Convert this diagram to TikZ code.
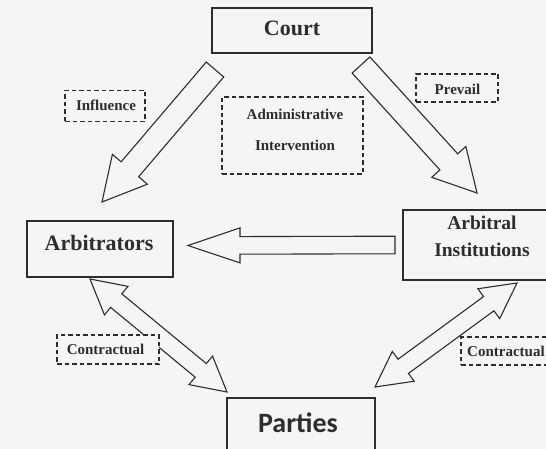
\documentclass[tikz,border=0pt]{standalone}
\usepackage{fontspec}
\setmainfont{Liberation Serif}
\newfontfamily\partiesfont{Carlito}
\usetikzlibrary{calc}
\definecolor{bg}{RGB}{245,245,247}
\definecolor{ink}{RGB}{45,45,48}
\tikzset{
  box/.style={draw=ink, line width=1.3pt, fill=bg, inner sep=0pt},
  dbox/.style={draw=ink, line width=1.1pt, dash pattern=on 4.5pt off 3pt, fill=bg, inner sep=0pt},
  txt/.style={text=ink, inner sep=0pt, align=center},
  lbl/.style={txt, font=\fontsize{15}{17}\selectfont\bfseries},
  big/.style={txt, font=\fontsize{22}{26}\selectfont\bfseries},
  arrowline/.style={draw=ink, line width=1.1pt, fill=bg, line join=miter, miter limit=20}
}
% single block arrow: #1 tail, #2 tip, #3 shaft half width, #4 head half width, #5 head length
\newcommand{\sblockarrow}[5]{%
  \coordinate (hh) at ($(#2)!#5!(#1)$);
  \draw[arrowline] ($(#1)!#3!90:(#2)$) -- ($(hh)!#3!90:(#2)$) -- ($(hh)!#4!90:(#2)$) -- (#2)
     -- ($(hh)!#4!-90:(#2)$) -- ($(hh)!#3!-90:(#2)$) -- ($(#1)!#3!-90:(#2)$) -- cycle;}
% double block arrow between tips #1 and #2
\newcommand{\dblockarrow}[5]{%
  \coordinate (ha) at ($(#1)!#5!(#2)$);
  \coordinate (hb) at ($(#2)!#5!(#1)$);
  \draw[arrowline] (#1) -- ($(ha)!#4!90:(#2)$) -- ($(ha)!#3!90:(#2)$) -- ($(hb)!#3!90:(#2)$)
     -- ($(hb)!#4!90:(#2)$) -- (#2) -- ($(hb)!#4!-90:(#2)$) -- ($(hb)!#3!-90:(#2)$)
     -- ($(ha)!#3!-90:(#2)$) -- ($(ha)!#4!-90:(#2)$) -- cycle;}
\begin{document}
\begin{tikzpicture}[x=1pt,y=-1pt]
\useasboundingbox (0,0) rectangle (546,449);
\clip (0,0) rectangle (546,449);
\fill[bg] (0,0) rectangle (546,449);

% main boxes
\node[box, minimum width=160pt, minimum height=45pt] (court) at (292,30.5) {};
\node[big] (courtT) at (292,28.5) {Court};
\node[box, minimum width=146pt, minimum height=56pt] (arb) at (100,249) {};
\node[big] (arbT) at (99,243) {Arbitrators};
\node[box, minimum width=160pt, minimum height=70pt] (inst) at (483,245) {};
\node[txt, font=\fontsize{19.5}{27}\selectfont\bfseries] (instT) at (482,236.5) {Arbitral\\Institutions};
\node[box, minimum width=148pt, minimum height=76pt] (part) at (301,436) {};
\node[txt, font=\fontsize{28}{32}\selectfont\partiesfont\bfseries] (partT) at (298,423) {Parties};

% arrow end points
\coordinate (a1s) at (215,69.5);  \coordinate (a1e) at (102,202);
\coordinate (a2s) at (361,65);    \coordinate (a2e) at (477,193);
\coordinate (a3s) at (395,245);   \coordinate (a3e) at (188,245.5);
\coordinate (a4s) at (90,279);    \coordinate (a4e) at (227,392);
\coordinate (a5s) at (375,387);   \coordinate (a5e) at (517,283);

\sblockarrow{a1s}{a1e}{11.5pt}{23pt}{43pt}
\sblockarrow{a2s}{a2e}{12pt}{23pt}{42pt}
\sblockarrow{a3s}{a3e}{8.8pt}{17.5pt}{52pt}
\dblockarrow{a4s}{a4e}{8.8pt}{18.5pt}{34pt}
\dblockarrow{a5s}{a5e}{8.8pt}{18.5pt}{35pt}

% dashed label boxes
\node[dbox, minimum width=80pt, minimum height=31pt] (infl) at (105,106) {};
\node[lbl] (inflT) at (106,105.5) {Influence};
\node[dbox, minimum width=141pt, minimum height=77pt] (admin) at (292.5,135.5) {};
\node[lbl] (adminT1) at (295,114) {Administrative};
\node[lbl] (adminT2) at (295,145) {Intervention};
\node[dbox, minimum width=82pt, minimum height=28pt] (prev) at (457,88) {};
\node[lbl] (prevT) at (457.5,89) {Prevail};
\node[dbox, minimum width=102pt, minimum height=29pt] (con1) at (108,349.5) {};
\node[lbl] (con1T) at (105.5,349) {Contractual};
\node[dbox, minimum width=100pt, minimum height=28pt] (con2) at (511,351) {};
\node[lbl, anchor=west] (con2T) at (467,351) {Contractual};
\end{tikzpicture}
\end{document}
